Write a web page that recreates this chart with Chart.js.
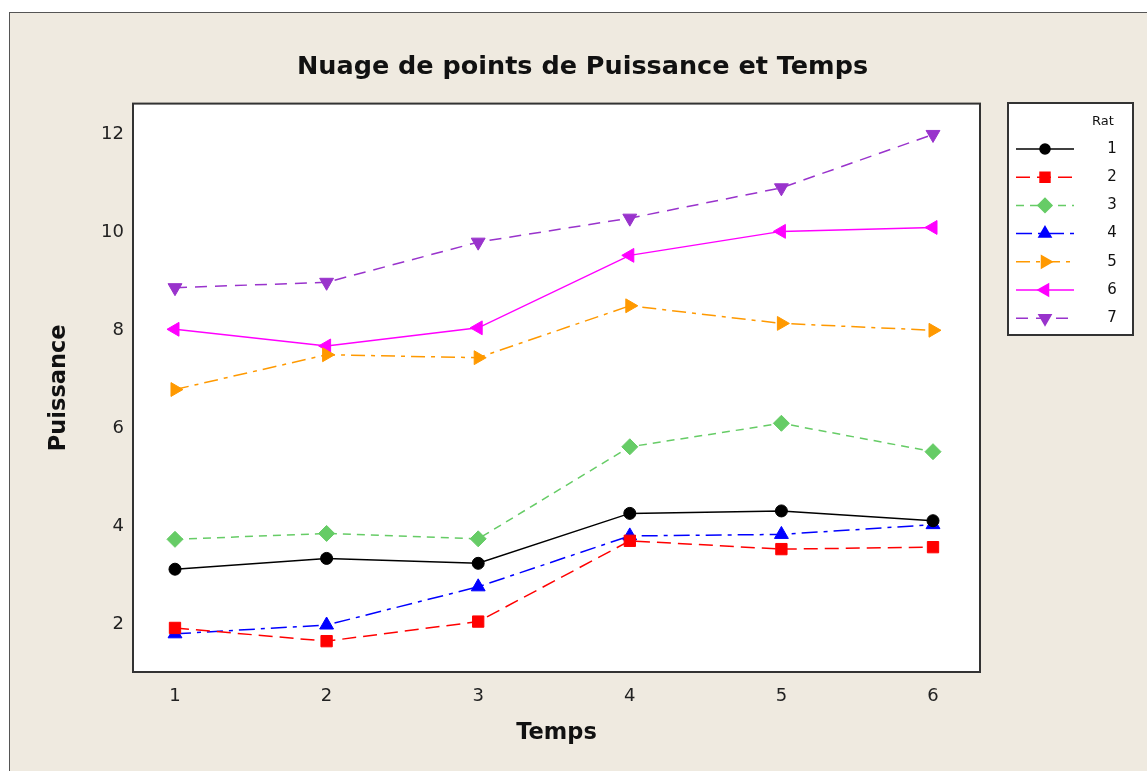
<!DOCTYPE html>
<html>
<head>
<meta charset="utf-8">
<script src="https://cdn.jsdelivr.net/npm/chart.js@4.4.0/dist/chart.umd.min.js"></script>
<style>
  html, body { margin: 0; padding: 0; background: #fff; }
  #wrap { position: absolute; left: 9px; top: 12px; width: 1138px; height: 759px;
          background: #efeae0; border-left: 1px solid #555; border-top: 1px solid #555; box-sizing: border-box; }
  canvas { position: absolute; left: 0; top: 0; }
</style>
</head>
<body>
<div id="wrap"></div>
<canvas id="chart" width="1147" height="771"></canvas>
<script>
const temps = [1, 2, 3, 4, 5, 6];
const rat1 = [3.12, 3.34, 3.24, 4.26, 4.31, 4.11];
const rat2 = [1.92, 1.65, 2.05, 3.70, 3.53, 3.57];
const rat3 = [3.73, 3.85, 3.74, 5.62, 6.10, 5.52];
const rat4 = [1.80, 1.98, 2.76, 3.80, 3.83, 4.03];
const rat5 = [6.79, 7.50, 7.44, 8.50, 8.14, 8.00];
const rat6 = [8.02, 7.68, 8.05, 9.53, 10.02, 10.10];
const rat7 = [8.87, 8.98, 9.80, 10.29, 10.91, 12.00];
const yTicks = [2, 4, 6, 8, 10, 12];

const font = 'DejaVu Sans';

const series = [
  { label: '1', values: rat1, color: '#000000', style: 'circle', rot: 0, r: 6, dash: [] },
  { label: '2', values: rat2, color: '#ff0000', style: 'rect', rot: 0, r: 8, dash: [14, 7] },
  { label: '3', values: rat3, color: '#66cc66', style: 'rectRot', rot: 0, r: 8, dash: [8, 6] },
  { label: '4', values: rat4, color: '#0000ff', style: 'triangle', rot: 0, r: 8, dash: [16, 6, 4, 6] },
  { label: '5', values: rat5, color: '#ff9900', style: 'triangle', rot: 90, r: 8, dash: [14, 6, 4, 6] },
  { label: '6', values: rat6, color: '#ff00ff', style: 'triangle', rot: -90, r: 8, dash: [] },
  { label: '7', values: rat7, color: '#9933cc', style: 'triangle', rot: 180, r: 8, dash: [12, 8] }
];

// frame around plot + legend box
const framePlugin = {
  id: 'frame',
  beforeDraw(chart) {
    const { ctx, chartArea: a } = chart;
    ctx.save();
    ctx.fillStyle = '#ffffff';
    ctx.fillRect(a.left, a.top, a.right - a.left, a.bottom - a.top);
    ctx.restore();
  },
  afterDraw(chart) {
    const { ctx, chartArea: a } = chart;
    ctx.save();
    ctx.strokeStyle = '#333';
    ctx.lineWidth = 2;
    ctx.strokeRect(a.left, a.top, a.right - a.left, a.bottom - a.top);

    // legend
    const lx = 1008, ly = 103, lw = 125, lh = 232;
    ctx.fillStyle = '#ffffff';
    ctx.fillRect(lx, ly, lw, lh);
    ctx.strokeStyle = '#333';
    ctx.lineWidth = 2;
    ctx.strokeRect(lx, ly, lw, lh);
    ctx.fillStyle = '#111';
    ctx.font = '13px ' + font;
    ctx.textAlign = 'center';
    ctx.textBaseline = 'middle';
    ctx.fillText('Rat', 1103, 122);
    series.forEach((s, i) => {
      const y = 149 + i * 28.2;
      ctx.strokeStyle = s.color;
      ctx.lineWidth = 1.5;
      ctx.setLineDash(s.dash);
      ctx.beginPath();
      ctx.moveTo(1016, y);
      ctx.lineTo(1074, y);
      ctx.stroke();
      ctx.setLineDash([]);
      ctx.fillStyle = s.color;
      Chart.helpers.drawPoint(ctx, { pointStyle: s.style, rotation: s.rot, radius: s.r - 1, borderWidth: 1 }, 1045, y);
      ctx.fillStyle = '#111';
      ctx.font = '15px ' + font;
      ctx.fillText(s.label, 1112, y);
    });
    ctx.restore();
  }
};

new Chart(document.getElementById('chart'), {
  type: 'line',
  data: {
    datasets: series.map(s => ({
      label: 'Rat ' + s.label,
      data: temps.map((t, i) => ({ x: t, y: s.values[i] })),
      borderColor: s.color,
      backgroundColor: s.color,
      borderWidth: 1.5,
      borderDash: s.dash,
      pointStyle: s.style,
      pointRotation: s.rot,
      pointRadius: s.r,
      pointBorderWidth: 1,
      tension: 0
    }))
  },
  options: {
    responsive: false,
    animation: false,
    layout: { padding: { left: 18, right: 0, top: 0, bottom: 0 } },
    plugins: {
      legend: { display: false },
      tooltip: { enabled: false },
      title: {
        display: true,
        text: 'Nuage de points de Puissance et Temps',
        color: '#111',
        font: { family: font, size: 25.5, weight: 'bold' },
        padding: { top: 52, bottom: 21 }
      }
    },
    scales: {
      x: {
        type: 'linear',
        min: 0.723,
        max: 6.31,
        afterBuildTicks: scale => { scale.ticks = temps.map(v => ({ value: v })); },
        afterFit: scale => { scale.height = 99; },
        grid: { display: false, drawOnChartArea: false, tickLength: 6, tickColor: '#333', tickWidth: 2 },
        border: { display: false },
        ticks: { color: '#222', font: { family: font, size: 18 }, padding: 8 },
        title: { display: true, text: 'Temps', color: '#111', font: { family: font, size: 22.5, weight: 'bold' }, padding: { top: 4, bottom: 24 } }
      },
      y: {
        min: 1.02,
        max: 12.63,
        afterBuildTicks: scale => { scale.ticks = yTicks.map(v => ({ value: v })); },
        afterFit: scale => { scale.width = 115; },
        grid: { display: false, drawOnChartArea: false, tickLength: 6, tickColor: '#333', tickWidth: 2 },
        border: { display: false },
        ticks: { color: '#222', font: { family: font, size: 18 }, padding: 3 },
        title: { display: true, text: 'Puissance', color: '#111', font: { family: font, size: 22.5, weight: 'bold' }, padding: { top: 28 } }
      },
      // empty strip on the right that leaves room for the legend box
      side: {
        type: 'linear',
        position: 'right',
        display: true,
        afterFit: scale => { scale.width = 167; },
        grid: { display: false, drawOnChartArea: false },
        border: { display: false },
        ticks: { display: false }
      }
    }
  },
  plugins: [framePlugin]
});
</script>
</body>
</html>
